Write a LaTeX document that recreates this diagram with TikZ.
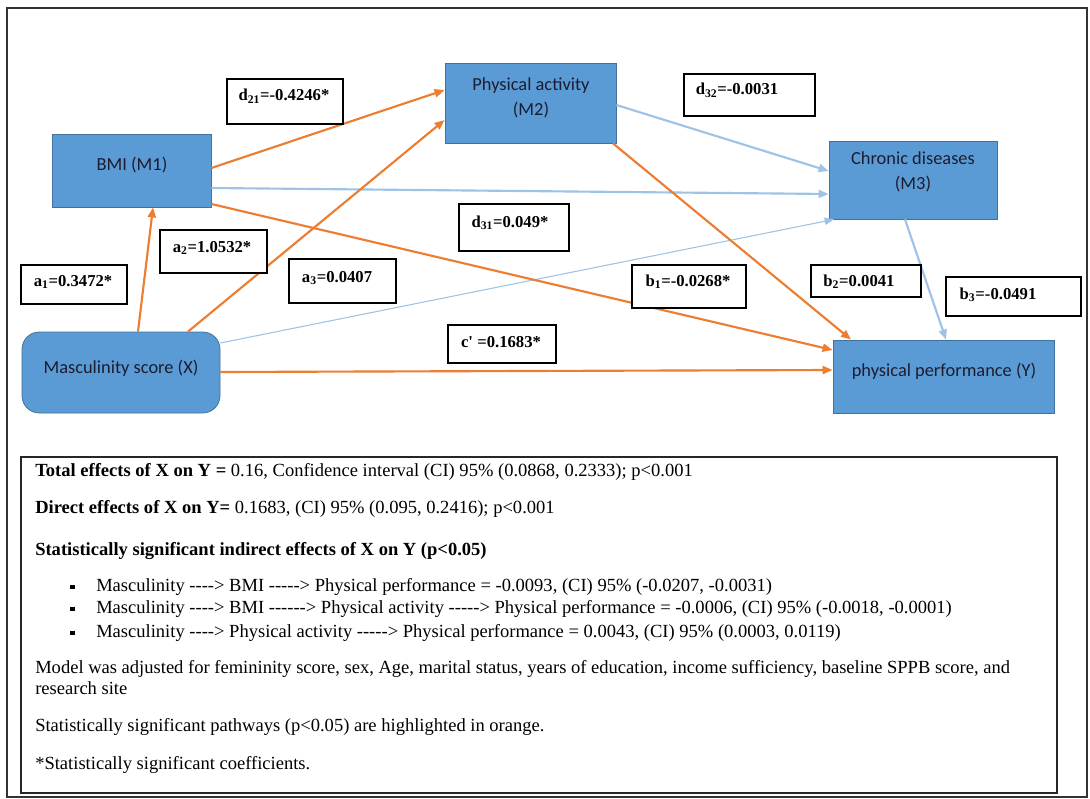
\documentclass[tikz,border=0pt]{standalone}
\usepackage{fontspec}
\setmainfont{Liberation Serif}
\newfontfamily\nodefont{Carlito}
\usetikzlibrary{arrows.meta,fit}
\definecolor{boxfill}{HTML}{5B9BD5}
\definecolor{boxline}{HTML}{41719C}
\definecolor{sigpath}{HTML}{ED7D31}
\definecolor{nspath}{HTML}{9DC3E6}
\definecolor{boxtext}{HTML}{1C1C30}
\begin{document}
\begin{tikzpicture}[x=0.75pt,y=-0.75pt,
  var/.style={draw=boxline, line width=0.6pt, fill=boxfill, inner sep=0pt},
  vartext/.style={font=\nodefont\fontsize{13.8}{16}\selectfont, text=boxtext, inner sep=0pt, anchor=base},
  coef/.style={draw=black, line width=1pt, inner sep=0pt},
  coeftext/.style={font=\bfseries\fontsize{12.5}{14}\selectfont, inner sep=0pt, anchor=base},
  sig/.style={draw=sigpath, line width=1.6pt, -{Triangle[length=7.5pt,width=6pt]}},
  ns/.style={draw=nspath, line width=1.6pt, -{Triangle[length=7.5pt,width=6pt]}},
  nsthin/.style={draw=nspath, line width=0.8pt, -{Triangle[length=7pt,width=5.5pt]}},
  legend/.style={font=\fontsize{13.9}{16}\selectfont, anchor=base west, inner sep=0pt},
]
\useasboundingbox (0,0) rectangle (1090,799);
\fill[white] (0,0) rectangle (1090,799);

% outer frame and legend frame
\node[draw=black!80, line width=0.8pt, inner sep=0pt, fit={(7,8)(1087,797)}] (frame) {};
\node[draw=black!85, line width=1.2pt, inner sep=0pt, fit={(21,457)(1057,793)}] (legendbox) {};

% variables
\node[var, fit={(52,134)(211,207)}] (m1) {};
\node[vartext] (m1t) at (132,171) {BMI (M1)};
\node[var, fit={(445,63)(616,143)}] (m2) {};
\node[vartext] (m2t) at (531,91) {Physical activity};
\node[vartext] (m2u) at (531,116) {(M2)};
\node[var, fit={(829,141)(997,219)}] (m3) {};
\node[vartext] (m3t) at (913,165) {Chronic diseases};
\node[vartext] (m3u) at (913,190) {(M3)};
\node[var, fit={(833,340)(1054,413)}] (y) {};
\node[vartext] (yt) at (944,376) {physical performance (Y)};
\node[var, rounded corners=13pt, fit={(22,332)(220,413)}] (x) {};
\node[vartext] (xt) at (121,373) {Masculinity score (X)};

% paths
\draw[ns] (m2.east |- 0,105) -- (m3.west |- 0,171);
\draw[ns] (m1.east |- 0,188) -- (m3.west |- 0,194);
\draw[nsthin] (x.east |- 0,343) -- (m3.south -| 834,0);
\draw[ns] (m3.south -| 905,0) -- (y.north -| 946,0);
\draw[sig] (m1.east |- 0,168) -- (m2.west |- 0,90);
\draw[sig] (x.north -| 138,0) -- (m1.south -| 153,0);
\draw[sig] (x.north -| 188,0) -- (m2.west |- 0,120);
\draw[sig] (m1.east |- 0,204) -- (y.west |- 0,350);
\draw[sig] (m2.south -| 613,0) -- (y.north -| 851,0);
\draw[sig] (x.east |- 0,372) -- (y.west |- 0,370);

% coefficients
\node[coef, fill=white, fit={(227,79)(343,124)}] (d21b) {};
\node[coeftext] (d21) at (284,101) {d\textsubscript{21}=-0.4246*};
\node[coef, fill=white, fit={(160,230)(267,273)}] (a2b) {};
\node[coeftext] (a2) at (212,252) {a\textsubscript{2}=1.0532*};
\node[coef, fill=white, fit={(21,265)(127,304)}] (a1b) {};
\node[coeftext] (a1) at (73,286) {a\textsubscript{1}=0.3472*};
\node[coef, fill=white, fit={(289,259)(396,303)}] (a3b) {};
\node[coeftext] (a3) at (337,282) {a\textsubscript{3}=0.0407};
\node[coef, fill=white, fit={(459,204)(569,251)}] (d31b) {};
\node[coeftext] (d31) at (510,227) {d\textsubscript{31}=0.049*};
\node[coef, fill=white, fit={(448,325)(556,363)}] (cpb) {};
\node[coeftext] (cp) at (501,347) {c\textquotesingle\ =0.1683*};
\node[coef, fill=white, fit={(684,74)(815,116)}] (d32b) {};
\node[coeftext] (d32) at (737,95) {d\textsubscript{32}=-0.0031};
\node[coef, fill=white, fit={(632,265)(746,308)}] (b1b) {};
\node[coeftext] (b1) at (688,286) {b\textsubscript{1}=-0.0268*};
\node[coef, fill=white, fit={(811,265)(921,297)}] (b2b) {};
\node[coeftext] (b2) at (859,286) {b\textsubscript{2}=0.0041};
\node[coef, fill=white, fit={(946,277)(1081,316)}] (b3b) {};
\node[coeftext] (b3) at (998,299) {b\textsubscript{3}=-0.0491};

% legend text
\node[legend] (l1) at (35,476) {\textbf{Total effects of X on Y =} 0.16, Confidence interval (CI) 95\% (0.0868, 0.2333); p<0.001};
\node[legend] (l2) at (35,513) {\textbf{Direct effects of X on Y=} 0.1683, (CI) 95\% (0.095, 0.2416); p<0.001};
\node[legend] (l3) at (35,555) {\textbf{Statistically significant indirect effects of X on Y (p<0.05)}};
\node[legend] (k1) at (70,591) {\raisebox{1.2pt}{\rule{3.5pt}{3.5pt}}};
\node[legend] (l4) at (96,591) {Masculinity -{}-{}-{}-> BMI -{}-{}-{}-{}-> Physical performance = -0.0093, (CI) 95\% (-0.0207, -0.0031)};
\node[legend] (k2) at (70,613) {\raisebox{1.2pt}{\rule{3.5pt}{3.5pt}}};
\node[legend] (l5) at (96,613) {Masculinity -{}-{}-{}-> BMI -{}-{}-{}-{}-{}-> Physical activity -{}-{}-{}-{}-> Physical performance = -0.0006, (CI) 95\% (-0.0018, -0.0001)};
\node[legend] (k3) at (70,637) {\raisebox{1.2pt}{\rule{3.5pt}{3.5pt}}};
\node[legend] (l6) at (96,637) {Masculinity -{}-{}-{}-> Physical activity -{}-{}-{}-{}-> Physical performance = 0.0043, (CI) 95\% (0.0003, 0.0119)};
\node[legend] (l7) at (35,673) {Model was adjusted for femininity score, sex, Age, marital status, years of education, income sufficiency, baseline SPPB score, and};
\node[legend] (l8) at (35,694) {research site};
\node[legend] (l9) at (35,731) {Statistically significant pathways (p<0.05) are highlighted in orange.};
\node[legend] (l10) at (35,769) {*Statistically significant coefficients.};
\end{tikzpicture}
\end{document}
